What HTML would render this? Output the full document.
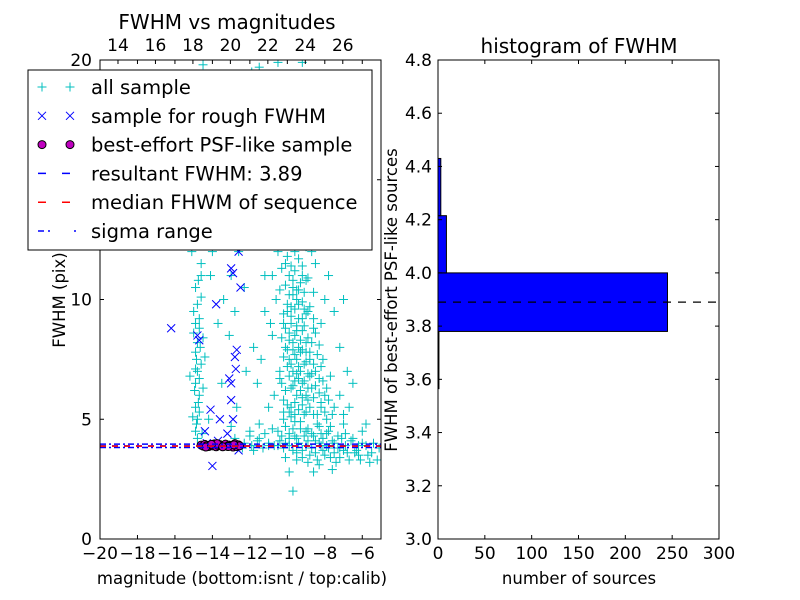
<!DOCTYPE html>
<html><head><meta charset="utf-8"><style>
body{margin:0;background:#fff}
svg{display:block;font-family:"DejaVu Sans","Liberation Sans",sans-serif}
</style></head><body>
<svg id="c" width="800" height="600"></svg>
<script>
const allSample=[[-14.9,4.5],[-14.8,5],[-14.9,5.5],[-14.7,6],[-14.9,6.5],[-14.8,7],[-14.6,7.3],[-14.9,7.8],[-14.8,8.2],[-14.7,8.8],[-15,9.5],[-14.8,9.8],[-14.9,10.5],[-14.6,11],[-15.1,12],[-14.8,4.2],[-14.7,5.3],[-14.5,6.3],[-14.9,7.1],[-15.0,8.6],[-14.7,9.2],[-14.6,10.1],[-15.2,6.8],[-14.4,7.6],[-14.5,8.4],[-14.8,13],[-14.5,14],[-15.0,15.5],
[-14,12],[-13.5,14],[-13,11],[-12.8,9.5],[-13.8,16],[-12.5,18],[-13.2,13],[-12,12.5],[-11.8,8],[-12.2,7],[-13.5,6.5],[-12.7,5.5],[-11.5,4.8],[-13,4.7],[-14.2,5],[-12.3,10.5],[-11.5,15],[-11.2,11],[-13.7,9],[-12.9,16.5],[-11,19],[-12,17],[-14,18.5],[-13.4,10],[-11.6,6.5],[-12.4,14.5],[-13.1,8.5],[-11.3,13.5],[-14.1,11],[-12.6,12],[-13.9,13.5],[-10.8,17],[-11.9,19.5],[-13,19],
[-10.5,4.5],[-10.2,5],[-9.8,5.5],[-9.5,6],[-9.2,6.5],[-9.7,7],[-9.9,7.5],[-9.4,8],[-9.6,8.5],[-9.8,9],[-10,9.5],[-9.5,10],[-9.7,10.5],[-9.9,11],[-10.1,11.5],[-9.6,12],[-9.3,12.5],[-9.8,13],[-10.3,13.5],[-9.5,14],[-10.5,12],[-10.6,10],[-10.8,8.5],[-10.4,7],[-10.7,6],[-11,5.5],[-10.9,9],[-10.3,6.5],[-10.1,8],[-9.1,5.2],[-8.9,5.8],[-8.7,6.3],[-8.5,7],[-8.8,7.5],[-9,8.2],[-8.6,8.8],[-8.4,4.8],[-8.2,5.5],[-8,6],[-7.8,4.5],[-8.3,6.7],[-8.9,9.5],[-8.6,10.3],[-9.2,11],[-9,13.5],[-8.7,12],[-8.1,7.5],[-7.6,5.2],[-7.3,4.3],[-7,4.8],[-6.5,4.2],[-6,4.5],[-7.2,6],[-6.7,5.5],[-9.3,4.6],[-9.6,4.9],[-9.9,5.3],[-10.2,5.8],[-9.4,6.7],[-9.1,7.3],[-9.3,7.8],[-9.2,9.2],[-9.4,9.8],[-9.7,10.2],[-9.0,10.8],[-10,12.5],[-9.8,14.5],[-10.3,15],[-9.6,15.5],[-10.1,16],[-9.4,16.8],[-10.6,14],[-9.9,17.5],[-10.4,18],[-9.6,19],[-10.8,11],[-9.5,3.6],[-8.8,3.5],[-8.1,3.7],[-7.7,3.4],[-8.4,3.3],[-9.2,3.4],[-6.8,3.6],[-6.2,3.5],[-5.5,3.6],[-5.2,3.3],[-7.4,3.2],[-9.9,2.8],[-9.7,2.0],[-8.6,2.8],[-7.5,9.5],[-7.2,8],[-6.8,7],[-6.5,6.5],[-7.8,11],[-8,10],[-8.3,12.5],[-8.2,9],[-8.5,11.5],[-7,10],[-6.2,3.9],[-5.8,4.8],[-7.9,5.0],[-8.6,5.2],[-9.0,6.0],[-9.8,6.3],[-10.0,7.2],[-9.5,7.5],[-9.2,8.7],[-9.9,8.3],[-10.2,9.0],[-10.4,10.4],[-10.5,3.9],[-8.9,4.1],[-8.3,4.0],[-7.6,4.1],[-6.9,4.4],[-11.5,4.2],[-12,4.3],[-10.8,4.6],[-9.6,4.3],[-5.4,4.0],[-5.1,3.8],[-10.7,16.5],[-10.2,13.0],[-8.9,14.5],[-8.5,16],[-11.2,9.5],[-11.4,7.5],[-11.0,12.5],[-10.9,15],[-14.5,19.8],[-11.5,19.7],[-10.5,19.9],[-9.2,19.9],
[-9.6,6.6],[-9.3,7.0],[-9.7,7.9],[-9.0,7.8],[-9.5,8.9],[-9.1,9.6],[-9.8,9.7],[-9.4,10.4],[-9.2,5.6],[-9.6,5.2],[-8.8,6.8],[-9.0,4.5],[-8.6,4.3],[-8.2,4.4],[-9.9,4.2],[-10.1,4.0],[-7.9,3.9],[-7.2,3.8],[-11,3.9],[-12.4,3.8],[-11.8,3.7],
[-10.3,4.3],[-10.1,4.7],[-9.9,4.4],[-9.7,4.6],[-9.5,4.2],[-9.3,4.9],[-9.1,4.3],[-8.9,4.6],[-8.7,4.4],[-8.5,4.1],[-8.3,4.7],[-8.1,4.2],[-7.9,4.4],[-7.7,4.7],[-7.5,4.0],[-7.3,3.8],[-7.1,4.2],[-6.9,3.9],[-6.6,4.1],[-6.3,3.7],[-6.0,4.0],[-5.7,3.5],
[-10.2,5.3],[-10.0,5.6],[-9.8,5.1],[-9.6,5.7],[-9.4,5.4],[-9.2,5.9],[-9.0,5.3],[-8.8,5.5],[-8.6,5.9],[-8.4,5.2],[-8.2,5.7],[-8.0,5.3],[-7.8,5.8],[-7.5,5.5],[-7.0,5.2],
[-10.1,6.2],[-9.9,6.8],[-9.7,6.4],[-9.5,6.9],[-9.3,6.2],[-9.1,6.6],[-8.9,6.3],[-8.7,6.9],[-8.5,6.4],[-8.3,6.1],[-8.1,6.6],[-7.9,6.3],[-7.7,6.8],[-10.4,6.7],
[-10.2,7.6],[-10.0,7.9],[-9.8,7.3],[-9.6,7.7],[-9.4,7.2],[-9.2,7.9],[-9.0,7.4],[-8.8,7.8],[-8.6,7.3],[-8.4,7.7],[-8.2,7.2],[-8.9,6.9],
[-10.3,8.4],[-10.1,8.8],[-9.9,8.6],[-9.7,8.2],[-9.5,8.7],[-9.3,8.3],[-9.1,8.9],[-8.9,8.4],[-8.7,8.2],[-8.5,8.6],[-8.3,8.1],
[-10.2,9.4],[-10.0,9.8],[-9.8,9.3],[-9.6,9.6],[-9.4,9.2],[-9.2,9.9],[-9.0,9.4],[-8.8,9.7],[-8.6,9.2],
[-10.1,10.6],[-9.9,10.2],[-9.7,10.8],[-9.5,10.4],[-9.3,10.7],[-9.1,10.3],[-8.9,10.9],[-10.3,11.3],[-10.0,11.8],[-9.8,11.4],[-9.6,11.2],[-9.4,11.7],[-9.2,11.4],[-9.0,12.2],[-9.7,12.5],[-9.4,13.1],[-10.0,13.6],[-9.6,14.2],[-9.2,14.8],[-9.9,15.6],[-9.5,16.2],[-10.2,17.2],[-9.3,17.8],[-9.8,18.5],
[-12.3,4.0],[-11.9,3.9],[-11.6,4.1],[-11.3,3.8],[-11.0,4.0],[-10.7,3.9],[-10.4,4.1],[-10.2,3.8],[-9.9,3.9],[-9.7,3.7],[-9.4,4.0],[-9.2,3.7],[-9.0,3.9],[-8.7,3.8],[-8.5,3.6],[-8.2,3.9],[-8.0,3.5],[-7.8,3.8],[-7.5,3.6],[-7.2,3.4],[-7.0,3.7],[-6.7,3.3],[-6.4,3.6],[-6.1,3.3],[-5.8,3.9],[-5.6,3.2],[-8.9,3.2],[-9.5,3.3],[-8.3,3.1],[-7.6,2.9],[-10.1,3.4],[-12.8,4.2],[-12.0,4.5],[-11.2,4.4],
[-14.85,4.8],[-14.75,5.7],[-14.95,6.2],[-14.7,6.7],[-14.85,7.5],[-14.65,8.0],[-14.9,9.0],[-14.75,10.8],[-14.6,11.5],[-15.05,5.1],[-14.55,4.4]];
const roughSample=[[-16.2,8.8],[-14.8,8.5],[-14.7,8.3],[-14.1,5.4],[-14.4,4.5],[-13.8,9.8],[-13.0,11.3],[-12.9,11.1],[-12.5,10.5],[-12.6,12],[-12.7,7.9],[-12.8,7.6],[-12.75,7.1],[-13.1,6.7],[-13.0,6.5],[-13.0,5.8],[-12.9,5.0],[-13.2,4.4],[-13.0,3.9],[-13.3,3.9],[-14,3.05],[-12.6,3.7],[-13.6,5.0],[-14.3,4.0],[-13.7,4.1]];
const psfX=[-14.6,-14.5,-14.4,-14.3,-14.2,-14.1,-14.0,-13.9,-13.8,-13.7,-13.6,-13.5,-13.4,-13.3,-13.2,-13.1,-13.0,-12.9,-12.8,-12.7,-12.6,-12.55,-14.35,-13.75,-13.15,-12.85,-14.05,-13.45];
const psfY=[3.92,3.88,3.95,3.90,3.86,3.93,3.89,3.97,3.85,3.91,3.94,3.88,3.90,3.96,3.87,3.92,3.90,3.84,3.98,3.86,3.93,3.89,3.84,3.98,3.86,3.93,3.95,3.85];
const resultFWHM=3.89, medianFWHM=3.88, sigmaLo=3.82, sigmaHi=3.96;
const binEdges=[3.565,3.78,4.00,4.215,4.43];
const binCounts=[1,245,9,3];
const xTicks=[-20,-18,-16,-14,-12,-10,-8,-6];
const topTicks=[14,16,18,20,22,24,26];
const yTicks=[0,5,10,15,20];
const hxTicks=[0,50,100,150,200,250,300];
const hyTicks=[3.0,3.2,3.4,3.6,3.8,4.0,4.2,4.4,4.6,4.8];

const S=document.getElementById('c');const NS='http://www.w3.org/2000/svg';
function mk(t,a,p){const e=document.createElementNS(NS,t);for(const k in a)e.setAttribute(k,a[k]);(p||S).appendChild(e);return e;}
const L={x0:100,x1:381,y0:60,y1:539};
const sx=v=>L.x0+(v+20)*(L.x1-L.x0)/15, sy=v=>L.y1-v*(L.y1-L.y0)/20;
const stop=v=>L.x0+(v-13.04)*(L.x1-L.x0)/15;
const H={x0:438,x1:719,y0:60,y1:539};
const hx=v=>H.x0+v*(H.x1-H.x0)/300, hy=v=>H.y1-(v-3.0)*(H.y1-H.y0)/1.8;

const gL=mk('g',{});
const clip=mk('clipPath',{id:'cl'});mk('rect',{x:L.x0,y:L.y0,width:L.x1-L.x0,height:L.y1-L.y0},clip);
const gp=mk('g',{'clip-path':'url(#cl)'},gL);
function plus(x,y,c,p){const g=mk('g',{stroke:c,'stroke-width':1},p);mk('line',{x1:x-4.5,y1:y,x2:x+4.5,y2:y},g);mk('line',{x1:x,y1:y-4.5,x2:x,y2:y+4.5},g);return g;}
function cross(x,y,c,p){const g=mk('g',{stroke:c,'stroke-width':1},p);mk('line',{x1:x-4,y1:y-4,x2:x+4,y2:y+4},g);mk('line',{x1:x-4,y1:y+4,x2:x+4,y2:y-4},g);return g;}
allSample.forEach(d=>{const e=plus(sx(d[0]),sy(d[1]),'#00bfbf',gp);

});
roughSample.forEach(d=>{const e=cross(sx(d[0]),sy(d[1]),'#0000ff',gp);

});
psfX.forEach((x,i)=>{const e=mk('circle',{cx:sx(x),cy:sy(psfY[i]),r:4,fill:'#bf00bf',stroke:'#000','stroke-width':1},gp);

});
function hl(v,c,da,name){const e=mk('line',{x1:L.x0,x2:L.x1,y1:sy(v),y2:sy(v),stroke:c,'stroke-width':1.5,'stroke-dasharray':da},gp);

}
hl(sigmaLo,'#0000ff','6,3,2,3','sigma-low-line');hl(sigmaHi,'#0000ff','6,3,2,3','sigma-high-line');
hl(resultFWHM,'#0000ff','6,6','resultant-fwhm-line');hl(medianFWHM,'#ff0000','6,6','median-fwhm-line');
mk('rect',{x:L.x0,y:L.y0,width:L.x1-L.x0,height:L.y1-L.y0,fill:'none',stroke:'#000'},gL);
xTicks.forEach(v=>{const x=sx(v);mk('line',{x1:x,x2:x,y1:L.y1,y2:L.y1-4,stroke:'#000'},gL);mk('line',{x1:x,x2:x,y1:L.y0,y2:L.y0+4,stroke:'#000'},gL);
const t=mk('text',{x:x,y:L.y1+20,'text-anchor':'middle','font-size':17},gL);t.textContent=(v<0?'\u2212'+(-v):v);});
topTicks.forEach(v=>{const x=stop(v);mk('line',{x1:x,x2:x,y1:L.y0,y2:L.y0+4,stroke:'#000'},gL);
const t=mk('text',{x:x,y:L.y0-9,'text-anchor':'middle','font-size':17},gL);t.textContent=v;});
yTicks.forEach(v=>{const y=sy(v);mk('line',{x1:L.x0,x2:L.x0+4,y1:y,y2:y,stroke:'#000'},gL);mk('line',{x1:L.x1,x2:L.x1-4,y1:y,y2:y,stroke:'#000'},gL);
const t=mk('text',{x:L.x0-8,y:y+6,'text-anchor':'end','font-size':17},gL);t.textContent=v;});
let t=mk('text',{x:242,y:584,'text-anchor':'middle','font-size':16.5},gL);t.textContent='magnitude (bottom:isnt / top:calib)';

t=mk('text',{x:0,y:0,'text-anchor':'middle','font-size':16.5,transform:'translate(65,300) rotate(-90)'},gL);t.textContent='FWHM (pix)';

t=mk('text',{x:227,y:29,'text-anchor':'middle','font-size':20},gL);t.textContent='FWHM vs magnitudes';


const lg=mk('g',{});
mk('rect',{x:28,y:70,width:344,height:180,fill:'#fff',stroke:'#000'},lg);
const labels=['all sample','sample for rough FWHM','best-effort PSF-like sample','resultant FWHM: 3.89','median FHWM of sequence','sigma range'];
labels.forEach((s,i)=>{const y=87+i*28.8;const g=mk('g',{},lg);

if(i==0){plus(42,y,'#00bfbf',g);plus(70,y,'#00bfbf',g);}
if(i==1){cross(42,y,'#0000ff',g);cross(70,y,'#0000ff',g);}
if(i==2){mk('circle',{cx:42,cy:y,r:4,fill:'#bf00bf',stroke:'#000'},g);mk('circle',{cx:70,cy:y,r:4,fill:'#bf00bf',stroke:'#000'},g);}
if(i==3)mk('line',{x1:38,x2:76,y1:y,y2:y,stroke:'#0000ff','stroke-width':1.5,'stroke-dasharray':'8,16'},g);
if(i==4)mk('line',{x1:38,x2:76,y1:y,y2:y,stroke:'#ff0000','stroke-width':1.5,'stroke-dasharray':'8,16'},g);
if(i==5)mk('line',{x1:38,x2:76,y1:y,y2:y,stroke:'#0000ff','stroke-width':1.5,'stroke-dasharray':'6,4,2,24'},g);
const tt=mk('text',{x:91,y:y+7,'font-size':19.5},g);tt.textContent=s;});

const gH=mk('g',{});
binCounts.forEach((c,i)=>{const y1=hy(binEdges[i+1]),y2=hy(binEdges[i]);
const r=mk('rect',{x:hx(0),y:y1,width:Math.max(hx(c)-hx(0),0.5),height:y2-y1,fill:'#0000ff',stroke:'#000','stroke-width':1},gH);
});
const dl=mk('line',{x1:H.x0,x2:H.x1,y1:hy(resultFWHM),y2:hy(resultFWHM),stroke:'#000','stroke-width':1.2,'stroke-dasharray':'8,7'},gH);

mk('rect',{x:H.x0,y:H.y0,width:H.x1-H.x0,height:H.y1-H.y0,fill:'none',stroke:'#000'},gH);
hxTicks.forEach(v=>{const x=hx(v);mk('line',{x1:x,x2:x,y1:H.y1,y2:H.y1-4,stroke:'#000'},gH);mk('line',{x1:x,x2:x,y1:H.y0,y2:H.y0+4,stroke:'#000'},gH);
const tt=mk('text',{x:x,y:H.y1+20,'text-anchor':'middle','font-size':17},gH);tt.textContent=v;});
hyTicks.forEach(v=>{const y=hy(v);mk('line',{x1:H.x0,x2:H.x0+4,y1:y,y2:y,stroke:'#000'},gH);mk('line',{x1:H.x1,x2:H.x1-4,y1:y,y2:y,stroke:'#000'},gH);
const tt=mk('text',{x:H.x0-6,y:y+6,'text-anchor':'end','font-size':17},gH);tt.textContent=v.toFixed(1);});
t=mk('text',{x:579,y:584,'text-anchor':'middle','font-size':16.5},gH);t.textContent='number of sources';

t=mk('text',{x:0,y:0,'text-anchor':'middle','font-size':16.5,transform:'translate(397,300) rotate(-90)'},gH);t.textContent='FWHM of best-effort PSF-like sources';

t=mk('text',{x:579,y:53,'text-anchor':'middle','font-size':20},gH);t.textContent='histogram of FWHM';

</script>
</body></html>
